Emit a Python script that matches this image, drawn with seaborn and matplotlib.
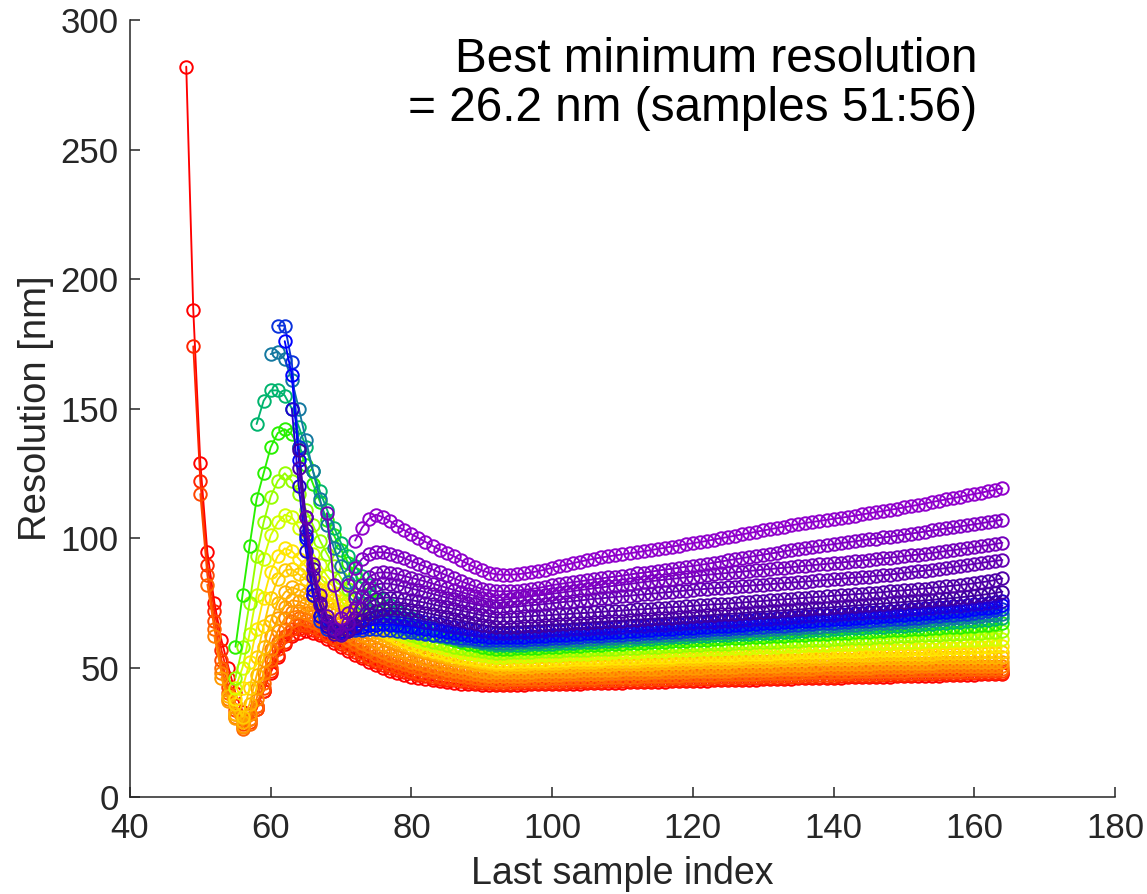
import numpy as np
import matplotlib
matplotlib.use("Agg")
import matplotlib.pyplot as plt
import seaborn as sns

# ---------------- data ----------------
# first "last sample index" of every curve; each curve then runs to 164
first_idx = [48, 49, 50, 51, 52, 53, 54, 55, 55, 55, 55, 55, 58, 60, 61, 62, 63, 64, 64, 65, 68, 71, 72]

colors = ['#ff0000', '#ff2400', '#ff4600', '#ff6400', '#ff8000', '#ff9a00', '#ffb400', '#ffcc00',
          '#ffe600', '#d2ff00', '#96ff00', '#28f000', '#00b46e', '#1478a0', '#0a32dc', '#0000ff',
          '#2000d2', '#4000a0', '#5000a8', '#6400b4', '#7400bc', '#8000c4', '#9000cc']

res_01 = [282, 188, 129, 94.6, 75, 60.6, 50, 40, 33, 32,
          35, 41, 48, 54, 59, 62, 63.5, 64, 63.5, 62.5,
          61, 59.5, 58, 56.5, 55, 53.5, 52, 50.8, 49.7, 48.8,
          48, 47.2, 46.5, 45.9, 45.4, 45, 44.6, 44.3, 44, 43.8,
          43.6, 43.5, 43.4, 43.3, 43.3,
          43.3, 43.3, 43.4, 43.4, 43.5, 43.5, 43.5, 43.6,
          43.7, 43.7, 43.8, 43.8, 43.9, 44.0, 44.0, 44.1,
          44.1, 44.2, 44.3, 44.3, 44.4, 44.4, 44.5, 44.5,
          44.6, 44.7, 44.7, 44.8, 44.9, 44.9, 45.0, 45.0,
          45.1, 45.2, 45.2, 45.3, 45.3, 45.4, 45.5, 45.5,
          45.6, 45.7, 45.8, 45.8, 45.9, 45.9, 46.0, 46.1,
          46.1, 46.2, 46.2, 46.3, 46.4, 46.4, 46.5, 46.5,
          46.6, 46.7, 46.7, 46.8, 46.8, 46.9, 46.9, 47.0,
          47.0, 47.1, 47.1, 47.2, 47.3, 47.3, 47.4, 47.5]

res_02 = [174, 122, 89.6, 72, 56.8, 46, 36, 30, 30, 34,
          41, 48.5, 55, 60, 63, 65, 65.5, 64.5, 63.5, 62,
          60.5, 59, 57.5, 56, 54.5, 53.2, 52, 51, 50, 49.2,
          48.4, 47.7, 47.1, 46.6, 46.1, 45.7, 45.3, 45, 44.7, 44.4,
          44.2, 44.0, 43.9, 43.8,
          43.8, 43.8, 43.9, 43.9, 44.0, 44.0, 44.1, 44.1,
          44.2, 44.2, 44.3, 44.3, 44.4, 44.5, 44.5, 44.6,
          44.6, 44.7, 44.8, 44.8, 44.9, 44.9, 45.0, 45.1,
          45.1, 45.2, 45.2, 45.3, 45.4, 45.4, 45.5, 45.5,
          45.6, 45.7, 45.7, 45.8, 45.9, 45.9, 46.0, 46.0,
          46.1, 46.2, 46.2, 46.3, 46.4, 46.4, 46.5, 46.5,
          46.6, 46.7, 46.7, 46.8, 46.8, 46.9, 47.0, 47.0,
          47.1, 47.1, 47.2, 47.3, 47.3, 47.4, 47.4, 47.5,
          47.5, 47.6, 47.7, 47.7, 47.8, 47.8, 47.9, 48.0]

res_03 = [117, 85.7, 68, 53, 42.5, 33.6, 28, 29, 34, 42,
          50, 57, 62, 65, 66.5, 66.5, 65.5, 64.5, 63, 61.5,
          60, 58.5, 57, 55.5, 54.2, 53, 52, 51, 50.1, 49.3,
          48.6, 48, 47.4, 46.9, 46.4, 46, 45.6, 45.3, 45, 44.8,
          44.6, 44.5, 44.4,
          44.4, 44.5, 44.5, 44.6, 44.6, 44.7, 44.7, 44.8,
          44.8, 44.9, 45.0, 45.0, 45.1, 45.1, 45.2, 45.3,
          45.3, 45.4, 45.4, 45.5, 45.6, 45.6, 45.7, 45.7,
          45.8, 45.9, 45.9, 46.0, 46.0, 46.1, 46.2, 46.2,
          46.3, 46.3, 46.4, 46.5, 46.5, 46.6, 46.7, 46.7,
          46.8, 46.8, 46.9, 47.0, 47.0, 47.1, 47.1, 47.2,
          47.3, 47.3, 47.4, 47.4, 47.5, 47.6, 47.6, 47.7,
          47.7, 47.8, 47.9, 47.9, 48.0, 48.0, 48.1, 48.2,
          48.2, 48.3, 48.3, 48.4, 48.5, 48.5, 48.6, 48.7]

res_04 = [82, 65, 50, 40, 32, 26.2, 28, 35, 44, 53,
          60, 65, 68, 69, 68.5, 67.5, 66.5, 65, 63.5, 62,
          60.5, 59, 57.5, 56.2, 55, 53.9, 52.9, 52, 51.2, 50.4,
          49.7, 49.1, 48.5, 48, 47.5, 47.1, 46.7, 46.3, 46, 45.7,
          45.5, 45.3,
          45.3, 45.4, 45.4, 45.5, 45.6, 45.6, 45.7, 45.8,
          45.8, 45.9, 45.9, 46.0, 46.1, 46.1, 46.2, 46.3,
          46.3, 46.4, 46.5, 46.5, 46.6, 46.7, 46.7, 46.8,
          46.9, 46.9, 47.0, 47.0, 47.1, 47.2, 47.2, 47.3,
          47.4, 47.4, 47.5, 47.6, 47.6, 47.7, 47.8, 47.8,
          47.9, 47.9, 48.0, 48.1, 48.1, 48.2, 48.2, 48.3,
          48.4, 48.4, 48.5, 48.5, 48.6, 48.6, 48.7, 48.7,
          48.8, 48.8, 48.9, 48.9, 49.0, 49.0, 49.1, 49.1,
          49.2, 49.2, 49.3, 49.3, 49.4, 49.4, 49.5, 49.5]

res_05 = [62, 48, 38, 31, 27, 30, 38, 48, 57, 64,
          69, 71.5, 72, 71, 70, 68.5, 67, 65.5, 64, 62.5,
          61, 59.5, 58.2, 57, 55.9, 54.9, 54, 53.1, 52.3, 51.6,
          50.9, 50.3, 49.7, 49.2, 48.7, 48.3, 47.9, 47.5, 47.2, 46.9,
          46.7,
          46.7, 46.8, 46.9, 46.9, 47.0, 47.0, 47.1, 47.2,
          47.2, 47.3, 47.4, 47.4, 47.5, 47.6, 47.6, 47.7,
          47.8, 47.8, 47.9, 48.0, 48.0, 48.1, 48.2, 48.2,
          48.3, 48.4, 48.4, 48.5, 48.6, 48.6, 48.7, 48.8,
          48.8, 48.9, 49.0, 49.0, 49.1, 49.2, 49.2, 49.3,
          49.4, 49.4, 49.5, 49.5, 49.6, 49.7, 49.7, 49.8,
          49.8, 49.9, 49.9, 50.0, 50.0, 50.1, 50.1, 50.2,
          50.2, 50.3, 50.3, 50.4, 50.4, 50.4, 50.5, 50.5,
          50.5, 50.6, 50.6, 50.6, 50.7, 50.7, 50.7, 50.7]

res_06 = [46, 37, 30.5, 27.5, 32, 42, 53, 62, 69, 73.5,
          76, 75.5, 74.5, 73, 71.5, 70, 68.5, 67, 65.5, 64,
          62.5, 61.2, 60, 58.8, 57.7, 56.7, 55.8, 54.9, 54.1, 53.3,
          52.6, 51.9, 51.3, 50.7, 50.2, 49.7, 49.2, 48.8, 48.4, 48.1,
          48.1, 48.2, 48.3, 48.3, 48.4, 48.5, 48.5, 48.6,
          48.7, 48.7, 48.8, 48.9, 48.9, 49.0, 49.1, 49.1,
          49.2, 49.3, 49.3, 49.4, 49.5, 49.5, 49.6, 49.7,
          49.7, 49.8, 49.9, 49.9, 50.0, 50.1, 50.1, 50.2,
          50.3, 50.3, 50.4, 50.5, 50.5, 50.6, 50.7, 50.7,
          50.8, 50.9, 50.9, 51.0, 51.1, 51.1, 51.2, 51.3,
          51.3, 51.4, 51.4, 51.5, 51.5, 51.6, 51.6, 51.7,
          51.7, 51.8, 51.8, 51.9, 51.9, 51.9, 52.0, 52.0,
          52.0, 52.1, 52.1, 52.1, 52.1, 52.2, 52.2, 52.2]

res_07 = [39, 32, 29, 36, 47, 58, 68, 75, 79, 81,
          80, 78.5, 77, 75.5, 74, 72.5, 71, 69.5, 68, 66.5,
          65, 63.7, 62.4, 61.2, 60.1, 59.1, 58.1, 57.2, 56.3, 55.5,
          54.7, 54.0, 53.3, 52.6, 52.0, 51.4, 50.9, 50.4, 50.0,
          50.0, 50.1, 50.2, 50.2, 50.3, 50.4, 50.4, 50.5,
          50.6, 50.7, 50.7, 50.8, 50.9, 50.9, 51.0, 51.1,
          51.2, 51.2, 51.3, 51.4, 51.5, 51.5, 51.6, 51.7,
          51.8, 51.8, 51.9, 52.0, 52.1, 52.1, 52.2, 52.3,
          52.3, 52.4, 52.5, 52.5, 52.6, 52.7, 52.7, 52.8,
          52.9, 52.9, 53.0, 53.0, 53.1, 53.2, 53.2, 53.3,
          53.3, 53.4, 53.4, 53.5, 53.5, 53.6, 53.6, 53.7,
          53.7, 53.7, 53.8, 53.8, 53.8, 53.9, 53.9, 53.9,
          53.9, 54.0, 54.0, 54.0, 54.0, 54.0, 54.0, 54.0]

res_08 = [36, 31, 42, 54, 66, 77, 84, 87.5, 88, 86,
          84, 82, 80, 78, 76, 74, 72, 70, 68.3, 66.7,
          65.2, 63.8, 62.5, 61.3, 60.2, 59.2, 58.2, 57.3, 56.5, 55.7,
          55, 54.3, 53.7, 53.1, 52.6, 52.1, 51.7, 51.3,
          51.3, 51.4, 51.5, 51.5, 51.6, 51.7, 51.8, 51.8,
          51.9, 52.0, 52.1, 52.1, 52.2, 52.3, 52.4, 52.4,
          52.5, 52.6, 52.7, 52.7, 52.8, 52.9, 53.0, 53.0,
          53.1, 53.2, 53.3, 53.3, 53.4, 53.5, 53.5, 53.6,
          53.7, 53.8, 53.8, 53.9, 54.0, 54.0, 54.1, 54.2,
          54.2, 54.3, 54.4, 54.4, 54.5, 54.5, 54.6, 54.7,
          54.7, 54.8, 54.8, 54.9, 55.0, 55.0, 55.1, 55.1,
          55.2, 55.2, 55.3, 55.3, 55.4, 55.4, 55.5, 55.5,
          55.6, 55.6, 55.7, 55.7, 55.8, 55.8, 55.9, 56.0]

res_09 = [38, 42, 52, 65, 77, 87, 93, 96, 95, 92,
          89, 86, 83, 80.5, 78, 75.5, 73, 71, 69, 67.3,
          65.7, 64.2, 62.8, 61.5, 60.3, 59.2, 58.2, 57.3, 56.5, 55.8,
          55.1, 54.5, 54, 53.5, 53.1, 52.8, 52.5, 52.2,
          52.2, 52.3, 52.4, 52.5, 52.6, 52.6, 52.7, 52.8,
          52.9, 53.0, 53.1, 53.1, 53.2, 53.3, 53.4, 53.5,
          53.6, 53.6, 53.7, 53.8, 53.9, 54.0, 54.1, 54.2,
          54.2, 54.3, 54.4, 54.5, 54.6, 54.7, 54.8, 54.8,
          54.9, 55.0, 55.1, 55.2, 55.3, 55.4, 55.4, 55.5,
          55.6, 55.7, 55.8, 55.8, 55.9, 56.0, 56.1, 56.2,
          56.2, 56.3, 56.4, 56.5, 56.6, 56.6, 56.7, 56.8,
          56.9, 56.9, 57.0, 57.1, 57.2, 57.2, 57.3, 57.4,
          57.5, 57.6, 57.7, 57.8, 57.9, 58.0, 58.2, 58.3]

res_10 = [42, 50, 63, 78, 92, 101, 106, 109, 108, 104,
          99, 94, 89.5, 85.5, 82, 78.8, 76, 73.5, 71.3, 69.3,
          67.5, 65.9, 64.5, 63.2, 62, 61, 60.1, 59.3, 58.5, 57.8,
          57.2, 56.6, 56.1, 55.6, 55.2, 54.8, 54.5, 54.2,
          54.2, 54.3, 54.4, 54.5, 54.6, 54.7, 54.8, 54.9,
          55.0, 55.1, 55.2, 55.3, 55.4, 55.5, 55.6, 55.7,
          55.8, 55.9, 56.0, 56.1, 56.2, 56.3, 56.4, 56.5,
          56.6, 56.7, 56.8, 56.9, 57.0, 57.1, 57.2, 57.3,
          57.4, 57.5, 57.6, 57.7, 57.8, 57.9, 58.0, 58.1,
          58.2, 58.3, 58.4, 58.5, 58.6, 58.7, 58.8, 58.9,
          59.0, 59.1, 59.2, 59.3, 59.3, 59.4, 59.5, 59.6,
          59.7, 59.8, 59.9, 60.0, 60.1, 60.2, 60.3, 60.4,
          60.5, 60.6, 60.6, 60.7, 60.8, 60.9, 60.9, 61.0]

res_11 = [46, 58, 75, 93, 106, 116, 122, 125, 122, 117,
          111, 105, 99, 94, 89, 84.5, 80.5, 77, 74, 71.5,
          69.5, 67.8, 66.3, 65, 63.8, 62.7, 61.7, 60.8, 60, 59.3,
          58.7, 58.1, 57.6, 57.1, 56.7, 56.3, 56, 55.7,
          55.7, 55.8, 55.9, 56.0, 56.1, 56.2, 56.3, 56.4,
          56.5, 56.6, 56.7, 56.8, 56.9, 57.0, 57.1, 57.2,
          57.3, 57.5, 57.6, 57.7, 57.8, 57.9, 58.0, 58.2,
          58.3, 58.4, 58.5, 58.6, 58.7, 58.9, 59.0, 59.1,
          59.2, 59.3, 59.4, 59.6, 59.7, 59.8, 59.9, 60.0,
          60.1, 60.3, 60.4, 60.5, 60.6, 60.7, 60.8, 61.0,
          61.1, 61.2, 61.3, 61.4, 61.5, 61.7, 61.8, 61.9,
          62.0, 62.1, 62.2, 62.4, 62.5, 62.6, 62.7, 62.8,
          62.9, 63.1, 63.2, 63.3, 63.5, 63.6, 63.8, 64.0]

res_12 = [58, 78, 97, 115, 125, 135, 140.5, 142, 140, 135,
          128, 121, 114, 107, 101, 95.5, 90.5, 86, 82, 78.5,
          75.5, 73, 71, 69.2, 67.6, 66.2, 65, 63.9, 62.9, 62,
          61.2, 60.5, 59.8, 59.2, 58.6, 58.1, 57.6, 57.2,
          57.2, 57.3, 57.4, 57.5, 57.6, 57.7, 57.8, 57.9,
          58.0, 58.2, 58.3, 58.4, 58.6, 58.7, 58.8, 59.0,
          59.1, 59.2, 59.4, 59.5, 59.6, 59.8, 59.9, 60.0,
          60.2, 60.3, 60.4, 60.6, 60.7, 60.8, 61.0, 61.1,
          61.2, 61.4, 61.5, 61.6, 61.8, 61.9, 62.0, 62.2,
          62.3, 62.4, 62.6, 62.7, 62.8, 63.0, 63.1, 63.2,
          63.4, 63.5, 63.6, 63.8, 63.9, 64.0, 64.2, 64.3,
          64.4, 64.6, 64.7, 64.9, 65.0, 65.2, 65.3, 65.5,
          65.6, 65.8, 66.0, 66.2, 66.4, 66.6, 66.8, 67.0]

res_13 = [144, 153, 157, 157, 155, 150, 143, 135, 126, 118,
          111, 104, 98, 93, 89, 85.5, 82, 79, 76.5, 74,
          72, 70.5, 69, 67.7, 66.5, 65.4, 64.4, 63.5, 62.7, 61.9,
          60.8, 60.1, 59.5, 59.0, 58.5,
          58.5, 58.6, 58.7, 58.8, 58.9, 59.0, 59.1, 59.2,
          59.4, 59.5, 59.6, 59.8, 59.9, 60.0, 60.2, 60.3,
          60.4, 60.6, 60.7, 60.9, 61.0, 61.1, 61.3, 61.4,
          61.6, 61.7, 61.8, 62.0, 62.1, 62.3, 62.4, 62.5,
          62.7, 62.8, 63.0, 63.1, 63.2, 63.4, 63.5, 63.7,
          63.8, 63.9, 64.1, 64.2, 64.4, 64.5, 64.6, 64.8,
          64.9, 65.1, 65.2, 65.3, 65.5, 65.6, 65.8, 65.9,
          66.1, 66.2, 66.4, 66.6, 66.7, 66.9, 67.0, 67.2,
          67.4, 67.6, 67.8, 68.0, 68.2, 68.4, 68.7, 69.0]

res_14 = [171, 172, 169, 161, 150, 138, 126, 115, 105, 96,
          89, 83, 78.5, 75, 72, 70, 68.5, 67.2, 66.2, 65.3,
          64.5, 63.8, 63.2, 62.6, 62.1, 61.6, 61.2, 60.8, 60.5, 60.2,
          59.9, 59.7, 59.5,
          59.5, 59.6, 59.7, 59.8, 59.9, 60.0, 60.2, 60.3,
          60.4, 60.6, 60.7, 60.8, 61.0, 61.1, 61.2, 61.4,
          61.5, 61.7, 61.8, 61.9, 62.1, 62.2, 62.4, 62.5,
          62.7, 62.8, 63.0, 63.1, 63.3, 63.4, 63.6, 63.7,
          63.9, 64.0, 64.2, 64.3, 64.5, 64.6, 64.8, 64.9,
          65.1, 65.2, 65.4, 65.5, 65.7, 65.8, 66.0, 66.1,
          66.3, 66.4, 66.6, 66.7, 66.9, 67.0, 67.2, 67.3,
          67.5, 67.7, 67.8, 68.0, 68.2, 68.4, 68.6, 68.8,
          69.0, 69.2, 69.4, 69.6, 69.9, 70.1, 70.4, 70.8]

res_15 = [182, 182, 168, 135, 101, 78, 68, 65, 64, 64,
          64.2, 64.4, 64.6, 64.7, 64.7, 64.6, 64.4, 64.2, 63.9, 63.6,
          63.3, 63, 62.7, 62.4, 62.1, 61.8, 61.5, 61.2, 61, 60.8,
          60.6, 60.5,
          60.5, 60.6, 60.7, 60.8, 60.9, 61.0, 61.1, 61.3,
          61.4, 61.5, 61.7, 61.8, 62.0, 62.1, 62.3, 62.4,
          62.6, 62.7, 62.9, 63.0, 63.2, 63.3, 63.5, 63.6,
          63.8, 63.9, 64.1, 64.2, 64.4, 64.5, 64.7, 64.8,
          65.0, 65.1, 65.3, 65.4, 65.6, 65.7, 65.9, 66.0,
          66.2, 66.4, 66.5, 66.7, 66.8, 67.0, 67.1, 67.3,
          67.4, 67.6, 67.8, 67.9, 68.1, 68.2, 68.4, 68.6,
          68.7, 68.9, 69.1, 69.3, 69.5, 69.7, 69.9, 70.1,
          70.3, 70.6, 70.8, 71.1, 71.4, 71.7, 72.1, 72.5]

res_16 = [176, 163, 130, 100, 80, 70, 66, 64.5, 64, 64.5,
          65.2, 65.8, 66.3, 66.6, 66.7, 66.6, 66.4, 66.1, 65.8, 65.4,
          65, 64.6, 64.2, 63.8, 63.4, 63, 62.6, 62.3, 62, 61.8,
          61.6,
          61.6, 61.7, 61.8, 61.9, 62.0, 62.2, 62.3, 62.4,
          62.6, 62.7, 62.9, 63.0, 63.2, 63.3, 63.5, 63.6,
          63.8, 63.9, 64.1, 64.2, 64.4, 64.5, 64.7, 64.8,
          65.0, 65.1, 65.3, 65.4, 65.6, 65.7, 65.9, 66.0,
          66.2, 66.3, 66.5, 66.7, 66.8, 67.0, 67.1, 67.3,
          67.4, 67.6, 67.8, 67.9, 68.1, 68.2, 68.4, 68.6,
          68.7, 68.9, 69.1, 69.2, 69.4, 69.6, 69.8, 69.9,
          70.1, 70.3, 70.5, 70.7, 70.9, 71.1, 71.3, 71.5,
          71.8, 72.0, 72.3, 72.5, 72.8, 73.1, 73.5, 74.0]

res_17 = [150, 120, 95, 78, 70, 66, 64, 63.5, 64.5, 66.5,
          68, 69.2, 69.8, 70, 69.9, 69.6, 69.2, 68.7, 68.2, 67.7,
          67.2, 66.7, 66.2, 65.7, 65.2, 64.8, 64.4, 64, 63.7, 63.4,
          63.4, 63.5, 63.6, 63.7, 63.9, 64.0, 64.1, 64.3,
          64.4, 64.5, 64.7, 64.8, 65.0, 65.1, 65.3, 65.4,
          65.6, 65.7, 65.9, 66.0, 66.2, 66.3, 66.5, 66.6,
          66.8, 66.9, 67.1, 67.2, 67.4, 67.5, 67.7, 67.8,
          68.0, 68.1, 68.3, 68.5, 68.6, 68.8, 68.9, 69.1,
          69.3, 69.4, 69.6, 69.8, 69.9, 70.1, 70.3, 70.4,
          70.6, 70.8, 70.9, 71.1, 71.3, 71.5, 71.6, 71.8,
          72.0, 72.2, 72.4, 72.6, 72.8, 73.0, 73.2, 73.4,
          73.6, 73.9, 74.1, 74.4, 74.7, 75.0, 75.4, 75.8]

res_18 = [134, 108, 88, 75, 68, 64, 63, 64, 66, 68.5,
          70.5, 71.8, 72.5, 72.8, 72.8, 72.6, 72.2, 71.7, 71.2, 70.6,
          70, 69.4, 68.8, 68.2, 67.6, 67, 66.5, 66, 65.6,
          65.6, 65.7, 65.8, 65.9, 66.1, 66.2, 66.4, 66.5,
          66.7, 66.8, 67.0, 67.1, 67.3, 67.5, 67.6, 67.8,
          68.0, 68.1, 68.3, 68.5, 68.6, 68.8, 69.0, 69.1,
          69.3, 69.5, 69.6, 69.8, 70.0, 70.1, 70.3, 70.5,
          70.7, 70.8, 71.0, 71.2, 71.4, 71.5, 71.7, 71.9,
          72.1, 72.2, 72.4, 72.6, 72.8, 73.0, 73.1, 73.3,
          73.5, 73.7, 73.9, 74.1, 74.3, 74.5, 74.7, 74.9,
          75.1, 75.3, 75.5, 75.7, 75.9, 76.1, 76.4, 76.6,
          76.8, 77.1, 77.4, 77.7, 78.0, 78.4, 78.8, 79.3]

res_19 = [127, 103, 85, 74, 67, 63, 62.5, 65, 69, 72.5,
          75, 76.5, 77, 77, 76.8, 76.4, 76, 75.5, 75, 74.4,
          73.8, 73.2, 72.6, 72, 71.4, 70.8, 70.2, 69.7, 69.3,
          69.3, 69.4, 69.5, 69.7, 69.8, 70.0, 70.1, 70.3,
          70.5, 70.6, 70.8, 71.0, 71.1, 71.3, 71.5, 71.7,
          71.8, 72.0, 72.2, 72.4, 72.5, 72.7, 72.9, 73.1,
          73.3, 73.4, 73.6, 73.8, 74.0, 74.2, 74.4, 74.5,
          74.7, 74.9, 75.1, 75.3, 75.5, 75.7, 75.9, 76.1,
          76.3, 76.5, 76.7, 76.9, 77.1, 77.3, 77.5, 77.7,
          77.9, 78.1, 78.3, 78.5, 78.7, 78.9, 79.1, 79.4,
          79.6, 79.8, 80.0, 80.3, 80.5, 80.8, 81.0, 81.3,
          81.6, 81.9, 82.2, 82.5, 82.9, 83.3, 83.8, 84.4]

res_20 = [108, 90, 78, 70, 65, 63, 67, 73, 77.5, 80.5,
          82, 82.5, 82.3, 81.8, 81.2, 80.5, 79.8, 79.1, 78.4, 77.7,
          77, 76.3, 75.6, 75, 74.4, 73.8, 73.3, 72.8,
          73.0, 73.3, 73.5, 73.8, 74.0, 74.3, 74.5, 74.8,
          75.1, 75.4, 75.6, 75.9, 76.2, 76.5, 76.7, 77.0,
          77.2, 77.5, 77.7, 78.0, 78.2, 78.5, 78.7, 79.0,
          79.2, 79.5, 79.7, 80.0, 80.2, 80.4, 80.6, 80.8,
          81.0, 81.2, 81.4, 81.6, 81.8, 82.0, 82.2, 82.4,
          82.6, 82.8, 83.0, 83.2, 83.4, 83.6, 83.8, 84.0,
          84.2, 84.5, 84.7, 84.9, 85.1, 85.4, 85.6, 85.9,
          86.2, 86.5, 86.8, 87.1, 87.4, 87.7, 88.0, 88.4,
          88.8, 89.2, 89.6, 90.0, 90.4, 90.8, 91.2, 91.5]

res_21 = [109.6, 82, 69, 71, 77, 82, 85, 86.5, 86.8, 86.5,
          86, 85.3, 84.6, 83.9, 83.2, 82.4, 81.6, 80.8, 80, 79.2,
          78.4, 77.6, 76.9, 76.3, 75.8,
          76.1, 76.5, 76.8, 77.1, 77.5, 77.8, 78.1, 78.5,
          78.8, 79.2, 79.5, 79.9, 80.2, 80.6, 80.9, 81.3,
          81.6, 82.0, 82.3, 82.6, 83.0, 83.3, 83.6, 83.9,
          84.2, 84.5, 84.8, 85.1, 85.5, 85.8, 86.0, 86.3,
          86.5, 86.8, 87.0, 87.3, 87.5, 87.8, 88.0, 88.3,
          88.5, 88.8, 89.0, 89.3, 89.5, 89.8, 90.0, 90.3,
          90.5, 90.8, 91.0, 91.3, 91.6, 91.8, 92.1, 92.4,
          92.7, 93.0, 93.3, 93.6, 93.9, 94.2, 94.6, 95.0,
          95.3, 95.7, 96.1, 96.5, 96.9, 97.3, 97.7, 98.2]

res_22 = [82, 88.5, 92, 93.8, 94.5, 94.5, 94, 93.2, 92.2, 91.1,
          90, 88.9, 87.8, 86.7, 85.6, 84.5, 83.4, 82.3, 81.3, 80.4,
          79.8, 79.5,
          79.4, 79.5, 79.7, 80.0, 80.3, 80.7, 81.2, 81.8,
          82.2, 82.6, 83.0, 83.3, 83.7, 84.1, 84.4, 84.8,
          85.1, 85.5, 85.9, 86.3, 86.6, 87.0, 87.4, 87.8,
          88.1, 88.5, 88.9, 89.2, 89.6, 90.0, 90.5, 90.9,
          91.4, 91.8, 92.2, 92.7, 93.1, 93.6, 94.0, 94.4,
          94.9, 95.3, 95.8, 96.2, 96.5, 96.9, 97.3, 97.6,
          98.0, 98.4, 98.7, 99.1, 99.5, 99.8, 100.2, 100.5,
          100.9, 101.3, 101.7, 102.1, 102.5, 102.9, 103.3, 103.7,
          104.1, 104.5, 104.9, 105.3, 105.7, 106.2, 106.6, 107.1]

res_23 = [99, 104, 107.5, 109, 108, 106.5, 104.5, 103, 101.5, 100,
          98.5, 97, 95.5, 94.2, 93, 91.5, 90, 88.7, 87.5, 86.6,
          86.0,
          85.8, 85.8, 86.0, 86.3, 86.7, 87.2, 87.8, 88.5,
          89.1, 89.7, 90.3, 90.9, 91.5, 92.0, 92.5, 92.9,
          93.3, 93.7, 94.1, 94.5, 94.9, 95.3, 95.8, 96.2,
          96.7, 97.1, 97.6, 98.0, 98.4, 98.9, 99.4, 99.9,
          100.4, 100.9, 101.4, 101.9, 102.4, 102.9, 103.4, 103.9,
          104.4, 104.9, 105.4, 105.8, 106.2, 106.6, 107.0, 107.4,
          107.8, 108.2, 108.6, 109.1, 109.5, 110.0, 110.4, 110.9,
          111.3, 111.8, 112.3, 112.8, 113.3, 113.9, 114.4, 114.9,
          115.4, 115.9, 116.5, 117.0, 117.5, 118.1, 118.6, 119.2]

series_values = [res_01, res_02, res_03, res_04, res_05, res_06, res_07, res_08, res_09, res_10,
                 res_11, res_12, res_13, res_14, res_15, res_16, res_17, res_18, res_19, res_20,
                 res_21, res_22, res_23]

x_ticks = [40, 60, 80, 100, 120, 140, 160, 180]
y_ticks = [0, 50, 100, 150, 200, 250, 300]
x_label = "Last sample index"
y_label = "Resolution [nm]"
note_line1 = "Best minimum resolution"
note_line2 = "= 26.2 nm (samples 51:56)"

# ---------------- figure ----------------
sns.set_theme(style="white")
plt.rcParams['font.family'] = ['Liberation Sans', 'DejaVu Sans']

fig = plt.figure(figsize=(11.47, 8.94), dpi=100)
ax = fig.add_axes([0.1133, 0.1085, 0.8588, 0.8691])

for start, vals, col in zip(first_idx, series_values, colors):
    xs = np.arange(start, start + len(vals))
    sns.lineplot(x=xs, y=vals, ax=ax, color=col, linewidth=1.35,
                 marker='o', markersize=9.0, markerfacecolor='none',
                 markeredgecolor=col, markeredgewidth=1.4,
                 estimator=None, sort=False, legend=False)

ax.set_xlim(40, 180)
ax.set_ylim(0, 300)
ax.set_xticks(x_ticks)
ax.set_yticks(y_ticks)
ax.set_xticklabels([str(t) for t in x_ticks])
ax.set_yticklabels([str(t) for t in y_ticks])

for side in ['top', 'right']:
    ax.spines[side].set_visible(False)
for side in ['left', 'bottom']:
    ax.spines[side].set_color('#262626')
    ax.spines[side].set_linewidth(1.1)

ax.tick_params(axis='both', which='major', bottom=True, left=True, top=False, right=False,
               direction='in', length=7.2, width=1.1, colors='#262626',
               labelsize=25, labelcolor='#262626')
ax.tick_params(axis='x', pad=11)
ax.tick_params(axis='y', pad=8)

ax.set_xlabel(x_label, fontsize=27, color='#262626', labelpad=8)
ax.set_ylabel(y_label, fontsize=27.5, color='#262626', labelpad=5)

ax.text(160.4, 279.9, note_line1, ha='right', va='baseline', fontsize=34.4, color='black')
ax.text(160.4, 261.0, note_line2, ha='right', va='baseline', fontsize=34.4, color='black')

fig.savefig("out.png", dpi=100)
